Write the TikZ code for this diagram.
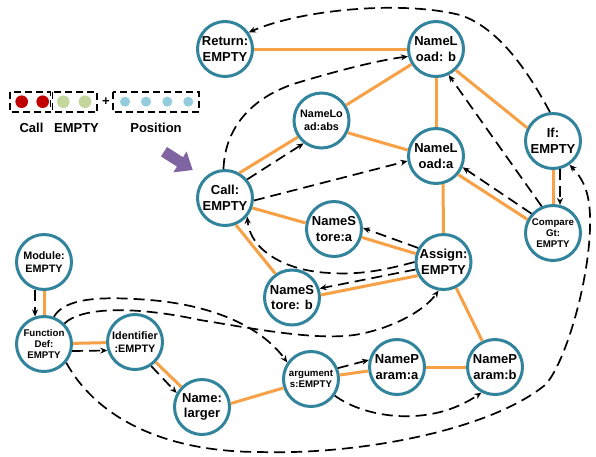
\documentclass[tikz,border=0pt]{standalone}
\usepackage{fontspec}
\setmainfont{Liberation Sans}
\usetikzlibrary{arrows.meta,calc}
\definecolor{ringc}{RGB}{49,132,155}
\definecolor{orc}{RGB}{247,160,70}
\definecolor{redc}{RGB}{192,0,0}
\definecolor{greenc}{RGB}{195,214,155}
\definecolor{bluec}{RGB}{147,205,221}
\definecolor{purc}{RGB}{128,100,162}
\begin{document}
\begin{tikzpicture}[x=1pt,y=-1pt,
  ast/.style={circle,draw=ringc,line width=3pt,fill=white,minimum size=55pt,inner sep=0pt,align=center,text=black,font=\bfseries\fontsize{13}{15.5}\selectfont},
  fmid/.style={font=\bfseries\fontsize{10.8}{13}\selectfont},
  fsm/.style={font=\bfseries\fontsize{9.7}{10.7}\selectfont},
  tree/.style={draw=orc,line width=3pt},
  flow/.style={draw=black,line width=1.7pt,dash pattern=on 11pt off 6pt,-{Stealth[length=7pt,width=6pt]}},
  lbox/.style={draw=black,line width=1.3pt,dash pattern=on 7pt off 4pt},
  lbl/.style={font=\bfseries\fontsize{13}{15}\selectfont,inner sep=0pt}
]
\fill[white] (0,0) rectangle (596,456);
\useasboundingbox (0,0) rectangle (596,456);

% legend
\draw[lbox] (10,92) rectangle (50.5,112);
\draw[lbox] (52.5,92) rectangle (97,112);
\draw[lbox] (113,92) rectangle (199,112);
\fill[redc] (21.7,101.7) circle (6.3pt);
\fill[redc] (42.7,101.7) circle (6.3pt);
\fill[greenc] (63.3,101.7) circle (6.3pt);
\fill[greenc] (85,101.7) circle (6.3pt);
\fill[bluec] (125,101.7) circle (5pt);
\fill[bluec] (146,101.7) circle (5pt);
\fill[bluec] (167.3,101.7) circle (5pt);
\fill[bluec] (188.3,101.7) circle (5pt);
\node[lbl] (plus) at (106,102) {+};
\node[lbl] (lcall) at (31.5,127.7) {Call};
\node[lbl] (lempty) at (76.5,127.7) {EMPTY};
\node[lbl] (lpos) at (156,127.7) {Position};

% purple arrow
\fill[purc] (167.0,147.0) -- (183.0,157.2) -- (186.6,151.5) -- (192.7,170.0) -- (173.4,172.3) -- (177.0,166.6) -- (161.0,156.4) -- cycle;

% nodes
\node[ast] (ret) at (225,49) {Return:\\EMPTY};
\node[ast] (nlb) at (436,49) {NameL\\oad: b};
\node[ast,fmid] (nlabs) at (321.5,120.5) {NameLo\\ad:abs};
\node[ast] (nla) at (436,156) {NameL\\oad:a};
\node[ast] (iff) at (553,141) {If:\\EMPTY};
\node[ast,fsm] (cmp) at (553,233) {Compare\\Gt:\\EMPTY};
\node[ast] (call) at (225,198) {Call:\\EMPTY};
\node[ast] (nsa) at (334,229) {NameS\\tore:a};
\node[ast] (asg) at (443.5,262) {Assign:\\EMPTY};
\node[ast] (nsb) at (292,297.5) {NameS\\tore: b};
\node[ast,fmid] (mod) at (44,262) {Module:\\EMPTY};
\node[ast,fsm] (fdef) at (44,344) {Function\\Def:\\EMPTY};
\node[ast,fmid] (ident) at (135,342) {Identifier\\:EMPTY};
\node[ast] (name) at (202,407) {Name:\\larger};
\node[ast,fsm] (args) at (311,379) {argument\\s:EMPTY};
\node[ast] (npa) at (397,367) {NameP\\aram:a};
\node[ast] (npb) at (495,367) {NameP\\aram:b};

% tree edges
\draw[tree] (ret) -- (nlb);
\draw[tree] (nlb) -- (nlabs);
\draw[tree] (nlb) -- (nla);
\draw[tree] (nlb.-47) -- (iff.153);
\draw[tree] (call.60) -- (nlabs.-145);
\draw[tree] (nlabs.-25) -- (nla.168);
\draw[tree] (nla.-76) -- (asg.north);
\draw[tree] (nla.-40) -- (cmp.152);
\draw[tree] (iff) -- (cmp);
\draw[tree] (call.-20) -- (nsa.168);
\draw[tree] (call.-68) -- (nsb.125);
\draw[tree] (nsa) -- (asg);
\draw[tree] (nsb.5) -- (asg.208);
\draw[tree] (asg) -- (npb);
\draw[tree] (mod) -- (fdef);
\draw[tree] (fdef) -- (ident);
\draw[tree] (ident) -- (name);
\draw[tree] (name.7) -- (args.198);
\draw[tree] (args) -- (npa);
\draw[tree] (npa) -- (npb);

% flow edges
\draw[flow] (iff.96) .. controls (530,75) and (500,28) .. (460,15) .. controls (400,0) and (300,10) .. (ret.35);
\draw[flow] (call.93) .. controls (225,125) and (255,95) .. (300,82) .. controls (340,70) and (380,60) .. (nlb.195);
\draw[flow] (call.40) -- (nlabs.-128);
\draw[flow] (call.-5) -- (nla.190);
\draw[flow] (asg.151) -- (nsa.2);
\draw[flow] (asg.180) .. controls (385,270) and (360,275) .. (330,273) .. controls (285,271) and (250,250) .. (call.-40);
\draw[flow] (asg.195) -- (nsb.18);
\draw[flow] (fdef.45) .. controls (80,308) and (130,305) .. (200,320) .. controls (250,328) and (320,342) .. (360,334) .. controls (395,327) and (425,310) .. (asg.-100);
\draw[flow] (fdef.70) .. controls (65,298) and (100,296) .. (150,300) .. controls (210,305) and (260,325) .. (args.145);
\draw[flow] (mod.-108) -- (fdef.108);
\draw[flow] (fdef.-14) -- (ident.197);
\draw[flow] (ident.-56) -- (name.151);
\draw[flow] (fdef.-40) .. controls (95,415) and (160,452) .. (260,452) .. controls (360,455) and (490,430) .. (545,385) .. controls (565,365) and (592,275) .. (590,215) .. controls (589,190) and (582,178) .. (iff.-55);
\draw[flow] (args.-35) .. controls (365,418) and (430,428) .. (npb.-118);
\draw[flow] (args.22) -- (npa.166);
\draw[flow] (iff.-76) -- (cmp.76);
\draw[flow] (cmp.138) -- (nla.-23);
\draw[flow] (cmp.113) -- (nlb.-64);
\end{tikzpicture}
\end{document}
